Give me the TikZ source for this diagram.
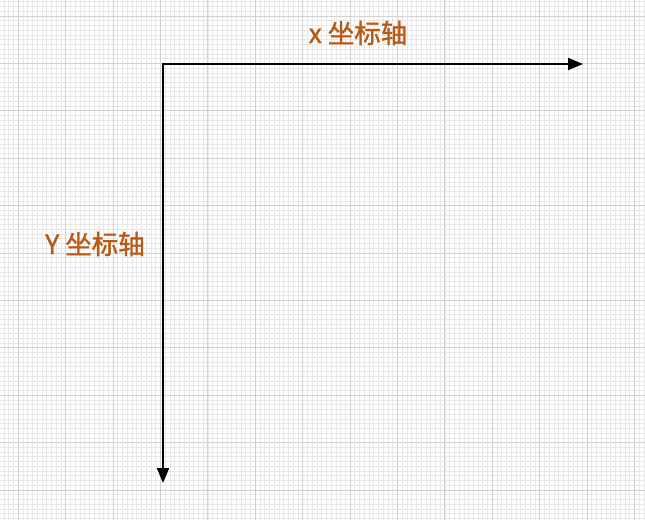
\documentclass[tikz,border=0pt]{standalone}
\usepackage{fontspec}
\setmainfont{Noto Sans CJK SC}
\newfontfamily\labelfont[FakeBold=1.2]{Noto Sans CJK SC}
\usepackage{tikz}
\usetikzlibrary{arrows.meta}
\usetikzlibrary{positioning}
\definecolor{labelorange}{HTML}{B85A14}
\definecolor{minorgrid}{RGB}{232,232,232}
\definecolor{majorgrid}{RGB}{210,210,210}
\tikzset{minor/.style = {draw = minorgrid, line width = 0.7pt}}
\tikzset{major/.style = {draw = majorgrid, line width = 0.9pt}}
\tikzset{axis/.style = {draw = black, line width = 2pt,
                        {Triangle[length=15pt, width=12pt]}-{Triangle[length=15pt, width=12pt]}}}
\tikzset{lbl/.style = {text = labelorange, font = \labelfont\fontsize{26.5}{30}\selectfont, inner sep = 0}}

\begin{document}
\begin{tikzpicture}[x = 1pt, y = 1pt]
      \useasboundingbox (0, 0) rectangle (645, 520);
      \fill [white] (0, 0) rectangle (645, 520);

      % grid
      \begin{scope}
        \clip (0, 0) rectangle (645, 520);
        \foreach \i in {-3, ..., 133}
          \draw [minor] ({18.3 + 4.74*\i}, 0) -- ({18.3 + 4.74*\i}, 520);
        \foreach \j in {-4, ..., 107}
          \draw [minor] (0, {504 - 4.74*\j}) -- (645, {504 - 4.74*\j});
        \foreach \i in {0, ..., 13}
          \draw [major] ({18.3 + 47.4*\i}, 0) -- ({18.3 + 47.4*\i}, 520);
        \foreach \j in {0, ..., 10}
          \draw [major] (0, {504 - 47.4*\j}) -- (645, {504 - 47.4*\j});
      \end{scope}

      \coordinate (origin) at (163, 456);
      \coordinate (xend) at (583, 456);
      \coordinate (yend) at (163, 37);

      \draw [axis] (xend) -- (origin) -- (yend);

      \node [lbl] (xlabel) at (358, 487) {x 坐标轴};
      \node [lbl] (ylabel) at (95, 276) {Y 坐标轴};
    \end{tikzpicture}
\end{document}
